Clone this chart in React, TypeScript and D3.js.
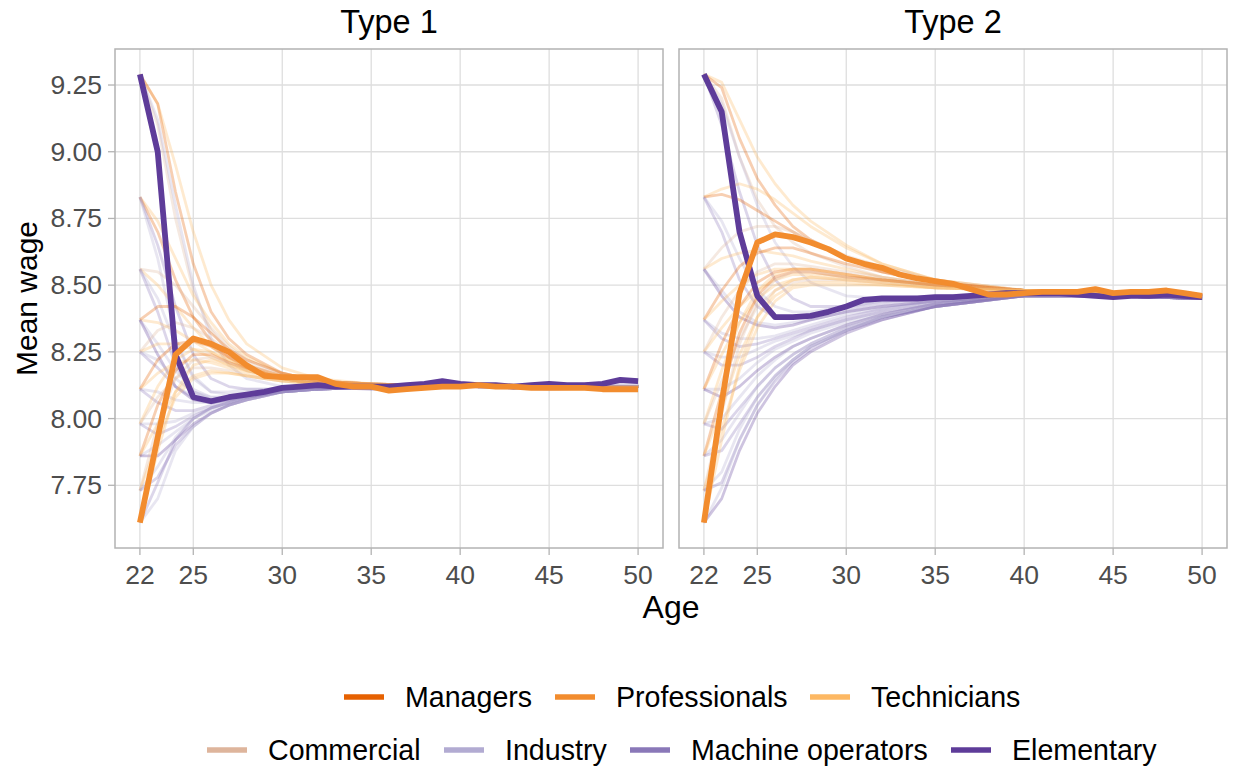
import React from "react";
import * as d3 from "d3";

// ---------- DATA ----------
const AGES = [22,23,24,25,26,27,28,29,30,31,32,33,34,35,36,37,38,39,40,41,42,43,44,45,46,47,48,49,50];
const THIN_AGES = [22,23,24,25,26,27,28,30,32,35,40,45,50];
const X_TICKS = [22,25,30,35,40,45,50];
const Y_TICKS = [7.75,8.0,8.25,8.5,8.75,9.0,9.25];
const PANELS = ["Type 1", "Type 2"];

const OCCUPATIONS = ["Managers","Professionals","Technicians","Commercial","Industry","Machine operators","Elementary"];
const OCC_COLORS = ["#e66101","#f28c2e","#fdb863","#deb59c","#b2abd2","#8a78b8","#5e3c99"];

// thick highlighted series (Professionals & Elementary), ages 22..50
const T1_PROFESSIONALS = [7.61,7.93,8.24,8.30,8.28,8.25,8.20,8.16,8.155,8.155,8.155,8.13,8.12,8.12,8.105,8.11,8.115,8.12,8.12,8.125,8.12,8.12,8.115,8.115,8.115,8.115,8.11,8.11,8.11];
const T1_ELEMENTARY = [9.29,9.00,8.24,8.08,8.065,8.08,8.09,8.10,8.115,8.12,8.125,8.12,8.12,8.12,8.12,8.125,8.13,8.14,8.13,8.125,8.125,8.12,8.125,8.13,8.125,8.125,8.13,8.145,8.14];
const T2_PROFESSIONALS = [7.61,8.06,8.47,8.66,8.69,8.68,8.66,8.635,8.60,8.58,8.565,8.54,8.525,8.515,8.505,8.485,8.465,8.465,8.47,8.475,8.475,8.475,8.485,8.47,8.475,8.475,8.48,8.47,8.46];
const T2_ELEMENTARY = [9.29,9.15,8.70,8.46,8.38,8.38,8.385,8.40,8.42,8.445,8.45,8.45,8.45,8.455,8.455,8.46,8.465,8.47,8.47,8.47,8.47,8.465,8.46,8.455,8.46,8.46,8.465,8.46,8.455];

// faint trajectories (values at THIN_AGES)
const T1_THIN: { occ: string; v: number[] }[] = [
  { occ: "Technicians", v: [9.29,9.18,8.95,8.70,8.50,8.37,8.28,8.19,8.15,8.13,8.12,8.12,8.12] },
  { occ: "Managers", v: [9.29,9.18,8.85,8.58,8.40,8.30,8.24,8.17,8.14,8.13,8.12,8.12,8.12] },
  { occ: "Commercial", v: [9.29,9.10,8.75,8.48,8.33,8.25,8.20,8.15,8.13,8.12,8.12,8.12,8.12] },
  { occ: "Industry", v: [9.29,9.12,8.80,8.50,8.30,8.20,8.15,8.12,8.12,8.12,8.12,8.12,8.12] },
  { occ: "Technicians", v: [8.83,8.74,8.60,8.46,8.36,8.28,8.23,8.17,8.14,8.13,8.12,8.12,8.12] },
  { occ: "Managers", v: [8.83,8.70,8.52,8.38,8.29,8.23,8.19,8.15,8.13,8.12,8.12,8.12,8.12] },
  { occ: "Machine operators", v: [8.83,8.65,8.42,8.24,8.15,8.12,8.11,8.11,8.12,8.12,8.12,8.12,8.12] },
  { occ: "Industry", v: [8.83,8.60,8.30,8.15,8.10,8.10,8.11,8.11,8.12,8.12,8.12,8.13,8.12] },
  { occ: "Commercial", v: [8.56,8.55,8.50,8.42,8.34,8.27,8.22,8.17,8.14,8.13,8.12,8.12,8.12] },
  { occ: "Technicians", v: [8.56,8.50,8.42,8.34,8.27,8.22,8.19,8.15,8.13,8.12,8.12,8.12,8.12] },
  { occ: "Industry", v: [8.56,8.45,8.28,8.16,8.10,8.09,8.10,8.11,8.12,8.12,8.12,8.12,8.12] },
  { occ: "Machine operators", v: [8.56,8.40,8.20,8.10,8.07,8.08,8.09,8.11,8.12,8.12,8.12,8.12,8.13] },
  { occ: "Managers", v: [8.37,8.42,8.42,8.38,8.32,8.26,8.22,8.17,8.14,8.13,8.12,8.12,8.12] },
  { occ: "Technicians", v: [8.37,8.36,8.33,8.29,8.25,8.21,8.18,8.15,8.13,8.12,8.12,8.12,8.12] },
  { occ: "Industry", v: [8.37,8.28,8.18,8.11,8.08,8.08,8.09,8.11,8.12,8.12,8.12,8.12,8.12] },
  { occ: "Elementary", v: [8.37,8.24,8.12,8.07,8.06,8.07,8.09,8.11,8.12,8.11,8.12,8.12,8.12] },
  { occ: "Commercial", v: [8.25,8.33,8.36,8.34,8.30,8.25,8.21,8.16,8.14,8.13,8.12,8.12,8.12] },
  { occ: "Technicians", v: [8.25,8.28,8.28,8.26,8.23,8.20,8.18,8.15,8.13,8.12,8.12,8.12,8.12] },
  { occ: "Machine operators", v: [8.25,8.19,8.12,8.08,8.07,8.08,8.09,8.11,8.12,8.12,8.12,8.12,8.12] },
  { occ: "Industry", v: [8.25,8.22,8.15,8.10,8.08,8.08,8.09,8.11,8.12,8.12,8.13,8.12,8.12] },
  { occ: "Managers", v: [8.11,8.22,8.28,8.29,8.27,8.23,8.20,8.16,8.14,8.13,8.12,8.12,8.12] },
  { occ: "Technicians", v: [8.11,8.17,8.21,8.22,8.21,8.19,8.17,8.15,8.13,8.12,8.12,8.12,8.12] },
  { occ: "Industry", v: [8.11,8.10,8.07,8.06,8.06,8.07,8.08,8.10,8.11,8.12,8.12,8.12,8.12] },
  { occ: "Machine operators", v: [8.11,8.06,8.03,8.03,8.05,8.07,8.08,8.10,8.11,8.12,8.12,8.12,8.12] },
  { occ: "Technicians", v: [7.98,8.12,8.22,8.26,8.25,8.22,8.19,8.16,8.14,8.13,8.12,8.12,8.12] },
  { occ: "Commercial", v: [7.98,8.08,8.15,8.19,8.19,8.18,8.16,8.14,8.13,8.12,8.12,8.12,8.12] },
  { occ: "Industry", v: [7.98,7.98,7.99,8.02,8.04,8.06,8.08,8.10,8.11,8.12,8.12,8.12,8.12] },
  { occ: "Machine operators", v: [7.98,7.94,7.97,8.01,8.04,8.06,8.08,8.10,8.11,8.12,8.12,8.11,8.12] },
  { occ: "Managers", v: [7.86,8.05,8.18,8.24,8.24,8.21,8.19,8.15,8.13,8.12,8.12,8.12,8.12] },
  { occ: "Technicians", v: [7.86,7.98,8.10,8.16,8.18,8.17,8.16,8.14,8.13,8.12,8.12,8.12,8.12] },
  { occ: "Industry", v: [7.86,7.90,7.95,8.00,8.03,8.05,8.07,8.10,8.11,8.12,8.12,8.12,8.12] },
  { occ: "Elementary", v: [7.86,7.86,7.92,7.98,8.02,8.05,8.07,8.10,8.11,8.12,8.12,8.12,8.12] },
  { occ: "Commercial", v: [7.73,7.98,8.15,8.22,8.23,8.21,8.18,8.15,8.13,8.12,8.12,8.12,8.12] },
  { occ: "Technicians", v: [7.73,7.92,8.08,8.15,8.17,8.17,8.16,8.14,8.13,8.12,8.12,8.12,8.12] },
  { occ: "Machine operators", v: [7.73,7.78,7.90,7.97,8.02,8.05,8.07,8.10,8.11,8.12,8.12,8.12,8.12] },
  { occ: "Industry", v: [7.73,7.82,7.93,8.00,8.04,8.06,8.08,8.10,8.11,8.12,8.12,8.12,8.12] },
  { occ: "Industry", v: [7.61,7.70,7.88,7.97,8.02,8.05,8.07,8.10,8.11,8.12,8.12,8.12,8.12] },
  { occ: "Machine operators", v: [7.61,7.76,7.92,8.00,8.04,8.06,8.08,8.10,8.11,8.12,8.12,8.12,8.12] },
  { occ: "Technicians", v: [7.61,7.88,8.10,8.20,8.22,8.20,8.18,8.15,8.13,8.12,8.12,8.12,8.12] },
];

const T2_THIN: { occ: string; v: number[] }[] = [
  { occ: "Technicians", v: [9.29,9.26,9.12,8.98,8.88,8.80,8.74,8.65,8.58,8.52,8.48,8.47,8.46] },
  { occ: "Managers", v: [9.29,9.24,9.05,8.90,8.80,8.72,8.67,8.60,8.55,8.51,8.48,8.47,8.46] },
  { occ: "Commercial", v: [9.29,9.20,8.98,8.82,8.72,8.66,8.62,8.57,8.53,8.50,8.48,8.47,8.46] },
  { occ: "Industry", v: [9.29,9.18,8.98,8.80,8.66,8.57,8.51,8.46,8.45,8.46,8.47,8.46,8.45] },
  { occ: "Machine operators", v: [9.29,9.10,8.85,8.65,8.52,8.45,8.42,8.42,8.44,8.45,8.47,8.46,8.45] },
  { occ: "Technicians", v: [8.83,8.86,8.88,8.86,8.82,8.77,8.72,8.64,8.58,8.52,8.48,8.47,8.46] },
  { occ: "Managers", v: [8.83,8.84,8.82,8.78,8.74,8.70,8.66,8.60,8.56,8.51,8.48,8.47,8.46] },
  { occ: "Industry", v: [8.83,8.74,8.60,8.48,8.42,8.40,8.40,8.42,8.44,8.45,8.47,8.46,8.45] },
  { occ: "Machine operators", v: [8.83,8.70,8.52,8.42,8.38,8.38,8.39,8.41,8.43,8.45,8.47,8.46,8.45] },
  { occ: "Commercial", v: [8.56,8.64,8.70,8.72,8.72,8.70,8.67,8.61,8.57,8.52,8.48,8.47,8.46] },
  { occ: "Technicians", v: [8.56,8.60,8.62,8.63,8.62,8.61,8.59,8.56,8.53,8.50,8.48,8.47,8.46] },
  { occ: "Industry", v: [8.56,8.48,8.40,8.36,8.35,8.36,8.37,8.40,8.42,8.44,8.46,8.46,8.45] },
  { occ: "Elementary", v: [8.56,8.46,8.38,8.35,8.34,8.35,8.37,8.40,8.42,8.44,8.46,8.46,8.45] },
  { occ: "Managers", v: [8.37,8.48,8.57,8.62,8.64,8.64,8.62,8.58,8.55,8.51,8.48,8.47,8.46] },
  { occ: "Technicians", v: [8.37,8.44,8.50,8.54,8.56,8.56,8.56,8.54,8.52,8.50,8.48,8.47,8.46] },
  { occ: "Industry", v: [8.37,8.32,8.30,8.30,8.31,8.33,8.35,8.39,8.41,8.44,8.46,8.46,8.45] },
  { occ: "Machine operators", v: [8.37,8.30,8.27,8.28,8.30,8.32,8.34,8.38,8.41,8.44,8.46,8.46,8.45] },
  { occ: "Commercial", v: [8.25,8.38,8.48,8.55,8.58,8.58,8.57,8.55,8.53,8.50,8.48,8.47,8.46] },
  { occ: "Technicians", v: [8.25,8.34,8.42,8.48,8.52,8.54,8.54,8.53,8.52,8.50,8.48,8.47,8.46] },
  { occ: "Industry", v: [8.25,8.23,8.23,8.26,8.29,8.31,8.33,8.37,8.40,8.43,8.46,8.46,8.45] },
  { occ: "Machine operators", v: [8.25,8.20,8.20,8.23,8.27,8.30,8.33,8.37,8.40,8.43,8.46,8.46,8.45] },
  { occ: "Managers", v: [8.11,8.28,8.42,8.51,8.55,8.56,8.56,8.54,8.52,8.50,8.48,8.47,8.46] },
  { occ: "Technicians", v: [8.11,8.24,8.36,8.45,8.50,8.52,8.53,8.52,8.51,8.49,8.48,8.47,8.46] },
  { occ: "Industry", v: [8.11,8.11,8.15,8.21,8.26,8.29,8.32,8.36,8.39,8.43,8.46,8.46,8.45] },
  { occ: "Elementary", v: [8.11,8.08,8.12,8.18,8.23,8.27,8.30,8.35,8.39,8.43,8.46,8.46,8.45] },
  { occ: "Technicians", v: [7.98,8.18,8.36,8.48,8.54,8.56,8.56,8.54,8.52,8.50,8.48,8.47,8.46] },
  { occ: "Commercial", v: [7.98,8.14,8.30,8.42,8.48,8.51,8.52,8.52,8.51,8.49,8.48,8.47,8.46] },
  { occ: "Industry", v: [7.98,8.00,8.08,8.16,8.22,8.27,8.30,8.35,8.39,8.43,8.46,8.46,8.45] },
  { occ: "Machine operators", v: [7.98,7.96,8.04,8.12,8.19,8.24,8.28,8.34,8.38,8.42,8.46,8.46,8.45] },
  { occ: "Managers", v: [7.86,8.10,8.32,8.46,8.53,8.55,8.55,8.53,8.52,8.50,8.48,8.47,8.46] },
  { occ: "Technicians", v: [7.86,8.04,8.24,8.38,8.46,8.50,8.51,8.51,8.50,8.49,8.48,8.47,8.46] },
  { occ: "Industry", v: [7.86,7.92,8.02,8.12,8.19,8.24,8.28,8.34,8.38,8.42,8.46,8.46,8.45] },
  { occ: "Machine operators", v: [7.86,7.88,7.98,8.08,8.16,8.22,8.27,8.33,8.38,8.42,8.46,8.46,8.45] },
  { occ: "Commercial", v: [7.73,8.02,8.28,8.44,8.52,8.55,8.55,8.53,8.52,8.50,8.48,8.47,8.46] },
  { occ: "Technicians", v: [7.73,7.96,8.18,8.34,8.44,8.49,8.50,8.50,8.50,8.49,8.48,8.47,8.46] },
  { occ: "Industry", v: [7.73,7.80,7.96,8.08,8.16,8.22,8.27,8.33,8.38,8.42,8.46,8.46,8.45] },
  { occ: "Machine operators", v: [7.73,7.76,7.92,8.05,8.14,8.21,8.26,8.33,8.37,8.42,8.46,8.46,8.45] },
  { occ: "Industry", v: [7.61,7.74,7.92,8.05,8.15,8.22,8.27,8.33,8.38,8.42,8.46,8.46,8.45] },
  { occ: "Elementary", v: [7.61,7.70,7.88,8.02,8.12,8.20,8.25,8.32,8.37,8.42,8.46,8.46,8.45] },
  { occ: "Technicians", v: [7.61,7.92,8.20,8.38,8.48,8.52,8.53,8.52,8.51,8.49,8.48,8.47,8.46] },
];

const THIN_BY_PANEL = [T1_THIN, T2_THIN];
const PROF_BY_PANEL = [T1_PROFESSIONALS, T2_PROFESSIONALS];
const ELEM_BY_PANEL = [T1_ELEMENTARY, T2_ELEMENTARY];

// ---------- LAYOUT ----------
const W = 1233, H = 767;
const PANEL_X = [115, 679];
const PANEL_W = 548;
const PANEL_TOP = 49, PANEL_BOTTOM = 548;
const FONT = "'Liberation Sans', Arial, Helvetica, sans-serif";

const colorOf = (occ: string) => OCC_COLORS[OCCUPATIONS.indexOf(occ)];

const LEGEND_ROWS = [
  { y: 697, items: [{ occ: "Managers", x: 344 }, { occ: "Professionals", x: 555 }, { occ: "Technicians", x: 810 }] },
  { y: 750, items: [{ occ: "Commercial", x: 207 }, { occ: "Industry", x: 444 }, { occ: "Machine operators", x: 630 }, { occ: "Elementary", x: 951 }] },
];

export default function App() {
  const y = d3.scaleLinear().domain([7.515, 9.385]).range([PANEL_BOTTOM, PANEL_TOP]);
  return (
    <svg width={W} height={H} style={{ display: "block", position: "absolute", left: 0, top: 0, background: "#fff" }} fontFamily={FONT}>
      <rect x={0} y={0} width={W} height={H} fill="#fff" />
      {PANELS.map((title, pi) => {
        const x0 = PANEL_X[pi];
        const x = d3.scaleLinear().domain([20.6, 51.4]).range([x0, x0 + PANEL_W]);
        const thinLine = d3.line<number>().x((_, i) => x(THIN_AGES[i])).y((d) => y(d));
        const fullLine = d3.line<number>().x((_, i) => x(AGES[i])).y((d) => y(d));
        const clipId = `clip${pi}`;
        return (
          <g key={title}>
            <defs>
              <clipPath id={clipId}>
                <rect x={x0} y={PANEL_TOP} width={PANEL_W} height={PANEL_BOTTOM - PANEL_TOP} />
              </clipPath>
            </defs>
            {/* grid */}
            {Y_TICKS.map((t) => (
              <line key={"gy" + t} x1={x0} x2={x0 + PANEL_W} y1={y(t)} y2={y(t)} stroke="#dedede" strokeWidth={1.3} />
            ))}
            {X_TICKS.map((t) => (
              <line key={"gx" + t} x1={x(t)} x2={x(t)} y1={PANEL_TOP} y2={PANEL_BOTTOM} stroke="#dedede" strokeWidth={1.3} />
            ))}
            <g clipPath={`url(#${clipId})`} fill="none" strokeLinejoin="round" strokeLinecap="butt">
              {THIN_BY_PANEL[pi].map((s, i) => (
                <path key={i} d={thinLine(s.v) || ""} stroke={colorOf(s.occ)} strokeOpacity={0.3} strokeWidth={2.8} />
              ))}
              <path d={fullLine(ELEM_BY_PANEL[pi]) || ""} stroke={colorOf("Elementary")} strokeWidth={5.8} />
              <path d={fullLine(PROF_BY_PANEL[pi]) || ""} stroke={colorOf("Professionals")} strokeWidth={5.8} />
            </g>
            {/* panel border */}
            <rect x={x0} y={PANEL_TOP} width={PANEL_W} height={PANEL_BOTTOM - PANEL_TOP} fill="none" stroke="#b3b3b3" strokeWidth={1.5} />
            {/* strip title */}
            <text x={x0 + PANEL_W / 2} y={22} textAnchor="middle" dominantBaseline="central" fontSize={32.5} fill="#000">{title}</text>
            {/* x ticks */}
            {X_TICKS.map((t) => (
              <g key={"tx" + t}>
                <line x1={x(t)} x2={x(t)} y1={PANEL_BOTTOM} y2={PANEL_BOTTOM + 7} stroke="#b3b3b3" strokeWidth={1.3} />
                <text x={x(t)} y={575} textAnchor="middle" dominantBaseline="central" fontSize={26.5} fill="#4d4d4d">{t}</text>
              </g>
            ))}
            {/* y ticks only on first panel */}
            {pi === 0 && Y_TICKS.map((t) => (
              <g key={"ty" + t}>
                <line x1={x0 - 7} x2={x0} y1={y(t)} y2={y(t)} stroke="#b3b3b3" strokeWidth={1.3} />
                <text x={x0 - 13} y={y(t)} textAnchor="end" dominantBaseline="central" fontSize={26.5} fill="#4d4d4d">{d3.format(".2f")(t)}</text>
              </g>
            ))}
          </g>
        );
      })}
      {/* axis titles */}
      <text x={(PANEL_X[0] + PANEL_X[1] + PANEL_W) / 2} y={607} textAnchor="middle" dominantBaseline="central" fontSize={32} fill="#000">Age</text>
      <text transform={`translate(26,${(PANEL_TOP + PANEL_BOTTOM) / 2}) rotate(-90)`} textAnchor="middle" dominantBaseline="central" fontSize={30} fill="#000">Mean wage</text>
      {/* legend */}
      {LEGEND_ROWS.map((row, ri) => (
        <g key={ri}>
          {row.items.map((it) => (
            <g key={it.occ}>
              <line x1={it.x} x2={it.x + 40} y1={row.y} y2={row.y} stroke={colorOf(it.occ)} strokeWidth={5.5} />
              <text x={it.x + 61} y={row.y} dominantBaseline="central" fontSize={28.6} fill="#000">{it.occ}</text>
            </g>
          ))}
        </g>
      ))}
    </svg>
  );
}
